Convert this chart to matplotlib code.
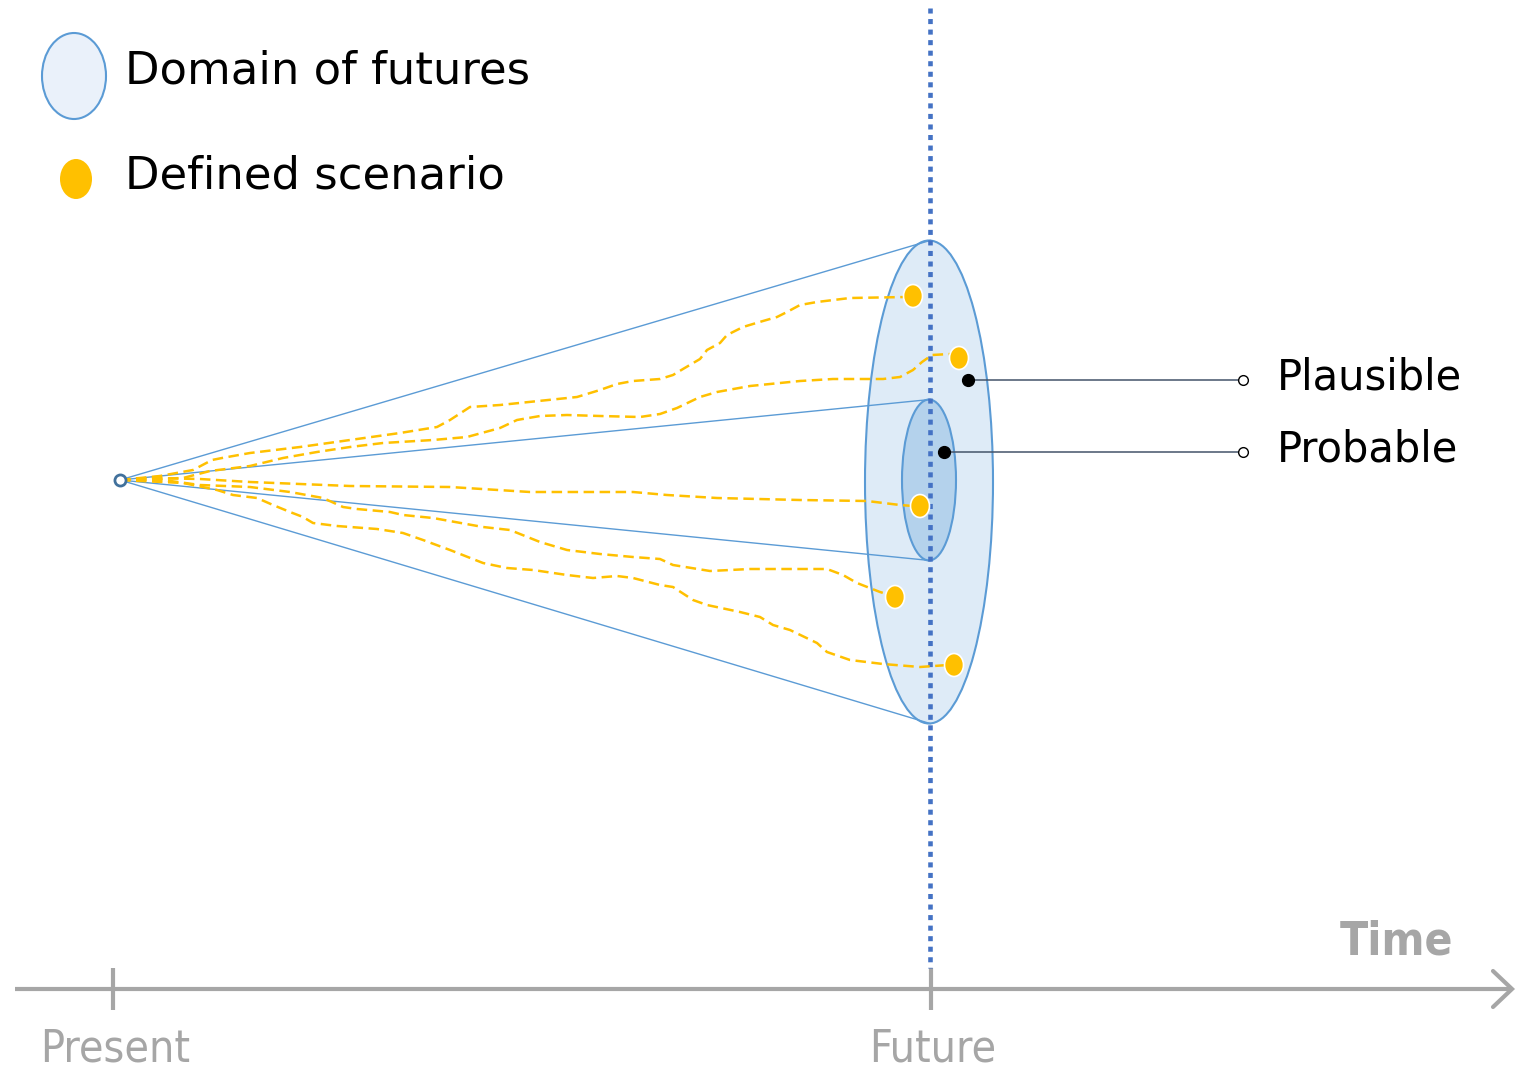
import matplotlib
matplotlib.use("Agg")
import matplotlib.pyplot as plt
from matplotlib.patches import Ellipse

# canvas is laid out in pixel units (x right, y down)
W, H = 1529, 1070

ORIGIN = (120, 480)
FUTURE_X = 930
OUTER = dict(cx=929, cy=482, w=128, h=483)
INNER = dict(cx=929, cy=480, w=54, h=161)

# defined scenarios (end points)
scen_x = [913, 959, 920, 895, 954]
scen_y = [296, 358, 506, 597, 665]

# scenario paths
path_a = [(120, 480), (160, 476), (193, 470), (212, 460), (222, 458), (250, 453),
          (300, 447), (350, 440), (400, 433), (437, 427), (450, 420), (470, 407),
          (500, 405), (577, 397), (600, 390), (617, 384), (633, 381), (660, 379),
          (673, 375), (683, 369), (700, 359), (707, 350), (720, 343), (727, 335),
          (743, 327), (763, 321), (777, 317), (787, 312), (800, 305), (817, 302),
          (850, 298), (907, 297)]
path_b = [(120, 480), (183, 478), (210, 471), (250, 466), (283, 458), (317, 452),
          (350, 447), (383, 443), (433, 440), (467, 437), (500, 428), (517, 420),
          (540, 416), (567, 415), (600, 416), (640, 417), (660, 414), (677, 408),
          (700, 397), (717, 392), (750, 386), (800, 381), (833, 379), (883, 379),
          (900, 377), (913, 370), (922, 362), (932, 355), (950, 354)]
path_c = [(120, 480), (150, 478), (200, 479), (250, 482), (350, 486), (450, 487),
          (530, 492), (567, 492), (633, 492), (667, 495), (717, 498), (800, 500),
          (867, 501), (900, 505), (913, 506)]
path_d = [(120, 480), (163, 480), (200, 485), (250, 487), (290, 492), (323, 498),
          (343, 507), (357, 509), (390, 512), (403, 515), (433, 518), (483, 527),
          (510, 530), (540, 542), (567, 550), (600, 554), (633, 557), (660, 559),
          (673, 565), (710, 571), (750, 569), (783, 569), (827, 569), (843, 575),
          (857, 583), (880, 592), (890, 595)]
path_e = [(120, 480), (183, 483), (217, 490), (233, 495), (257, 498), (273, 505),
          (290, 512), (303, 517), (313, 523), (337, 526), (377, 529), (403, 533),
          (423, 540), (450, 550), (483, 563), (507, 568), (533, 570), (567, 575),
          (593, 578), (617, 576), (633, 578), (660, 585), (673, 587), (693, 600),
          (707, 605), (740, 612), (760, 617), (773, 625), (790, 630), (817, 643),
          (827, 652), (850, 660), (883, 664), (920, 667), (948, 665)]
paths = [path_a, path_b, path_c, path_d, path_e]

# callouts: anchor point inside the cone -> label
callout_labels = ["Plausible", "Probable"]
callout_anchor = [(968, 380), (944, 452)]
callout_end_x = 1243
label_x = 1277

tick_x = [113, 931]
tick_labels = ["Present", "Future"]
AXIS_Y = 989

BLUE = "#5B9BD5"
DARK_BLUE = "#4472C4"
YELLOW = "#FFC000"
GREY = "#A6A6A6"
SLATE = "#44546A"

fig = plt.figure(figsize=(W / 100, H / 100), dpi=100)
ax = fig.add_axes([0, 0, 1, 1])
ax.set_xlim(0, W)
ax.set_ylim(H, 0)
ax.axis("off")

main_font = ["DejaVu Sans"]

# --- domain ellipses -------------------------------------------------
ax.add_patch(Ellipse((OUTER["cx"], OUTER["cy"]), OUTER["w"], OUTER["h"],
                     facecolor="#DEEBF7", edgecolor=BLUE, lw=1.5, zorder=1))
ax.add_patch(Ellipse((INNER["cx"], INNER["cy"]), INNER["w"], INNER["h"],
                     facecolor="#B4D2EC", edgecolor=BLUE, lw=1.5, zorder=2))

# cone lines from the present
for ty in [OUTER["cy"] - OUTER["h"] / 2, INNER["cy"] - INNER["h"] / 2,
           INNER["cy"] + INNER["h"] / 2, OUTER["cy"] + OUTER["h"] / 2]:
    ax.plot([ORIGIN[0], FUTURE_X], [ORIGIN[1], ty], color=BLUE, lw=1.0, zorder=3)

# future marker line
ax.plot([FUTURE_X, FUTURE_X], [8, 968], color=DARK_BLUE, lw=3.3,
        linestyle=(0, (1.1, 1.2)), zorder=4)

# scenario paths
for p in paths:
    xs, ys = zip(*p)
    ax.plot(xs, ys, color=YELLOW, lw=1.8, linestyle=(0, (4.2, 2.2)),
            solid_capstyle="butt", zorder=5)
for x, y in zip(scen_x, scen_y):
    ax.add_patch(Ellipse((x, y), 19, 23, facecolor=YELLOW, edgecolor="white",
                         lw=1.2, zorder=6))

# present point
ax.plot(*ORIGIN, marker="o", ms=8, mfc="white", mec="#41719C", mew=2, zorder=7)

# callouts
for lab, (ax_x, ax_y) in zip(callout_labels, callout_anchor):
    ax.plot([ax_x, callout_end_x], [ax_y, ax_y], color=SLATE, lw=1.1, zorder=6)
    ax.plot(ax_x, ax_y, marker="o", ms=8.5, color="black", zorder=7)
    ax.plot(callout_end_x, ax_y, marker="o", ms=7, mfc="white", mec="black",
            mew=1, zorder=7)
    ax.text(label_x, ax_y - 3, lab, fontsize=30, family=main_font,
            va="center", ha="left")

# legend
ax.add_patch(Ellipse((74, 76), 64, 86, facecolor="#EAF1FA", edgecolor=BLUE,
                     lw=1.5))
ax.text(125, 71, "Domain of futures", fontsize=32.3, family=main_font,
        va="center", ha="left")
ax.add_patch(Ellipse((76, 179), 32, 40, facecolor=YELLOW, edgecolor="none"))
ax.text(125, 176, "Defined scenario", fontsize=32.3, family=main_font,
        va="center", ha="left")

# time axis
ax.plot([15, 1512], [AXIS_Y, AXIS_Y], color=GREY, lw=3, solid_capstyle="butt")
ax.plot([1493, 1512, 1493], [971, AXIS_Y, 1007], color=GREY, lw=3,
        solid_capstyle="round", solid_joinstyle="miter")
for tx, tl in zip(tick_x, tick_labels):
    ax.plot([tx, tx], [968, 1010], color=GREY, lw=3, solid_capstyle="butt")
    ax.text(tx + 2, 1049, tl, fontsize=32, family="DejaVu Sans",
            fontstretch="condensed", color=GREY, va="center", ha="center")
ax.text(1453, 942, "Time", fontsize=33, family="DejaVu Sans",
        fontstretch="condensed", color=GREY, fontweight="bold",
        va="center", ha="right")

fig.savefig("out.png", dpi=100)
